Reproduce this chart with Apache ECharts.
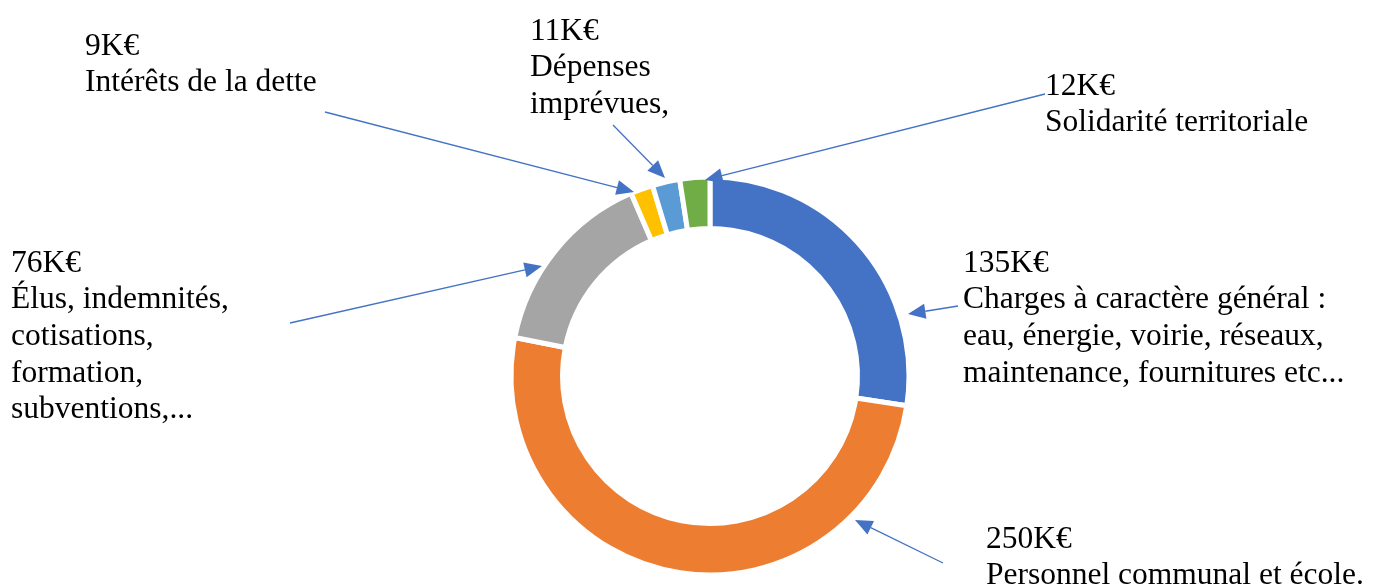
<!DOCTYPE html>
<html>
<head>
<meta charset="utf-8">
<script src="https://cdn.jsdelivr.net/npm/echarts@6/dist/echarts.min.js"></script>
<style>
html,body{margin:0;padding:0;background:#fff;}
#chart{width:1374px;height:584px;}
</style>
</head>
<body>
<div id="chart"></div>
<script>
// ---- data ----
const categories = [
  'Charges à caractère général :\neau, énergie, voirie, réseaux,\nmaintenance, fournitures etc...',
  'Personnel communal et école.',
  'Élus, indemnités,\ncotisations,\nformation,\nsubventions,...',
  'Intérêts de la dette',
  'Dépenses\nimprévues,',
  'Solidarité territoriale'
];
const values = [135, 250, 76, 9, 11, 12];
const unit = 'K€';
const colors = ['#4472C4', '#ED7D31', '#A5A5A5', '#FFC000', '#5B9BD5', '#70AD47'];

// ---- layout (label anchors: left/top) ----
const labelPos = [
  [963, 245],
  [986, 521],
  [11, 245],
  [85, 28],
  [530, 13],
  [1045, 68]
];
// arrows: tail x, tail y, tip x, tip y
const arrows = [
  [958, 306, 908, 314],
  [943, 563, 855, 520],
  [290, 323, 542, 266],
  [325, 112, 634, 192],
  [613, 125, 665, 178],
  [1045, 94, 705, 180]
];

const arrowColor = '#4472C4';
const headLen = 17.5, headHalf = 7.5;
const graphics = [];
arrows.forEach(a => {
  const [x1, y1, x2, y2] = a;
  const dx = x2 - x1, dy = y2 - y1;
  const L = Math.sqrt(dx * dx + dy * dy);
  const ux = dx / L, uy = dy / L;
  const bx = x2 - ux * headLen, by = y2 - uy * headLen;
  graphics.push({
    type: 'line', silent: true, z: 100,
    shape: { x1: x1, y1: y1, x2: bx, y2: by },
    style: { stroke: arrowColor, lineWidth: 1.3 }
  });
  graphics.push({
    type: 'polygon', silent: true, z: 100,
    shape: { points: [[x2, y2], [bx - uy * headHalf, by + ux * headHalf], [bx + uy * headHalf, by - ux * headHalf]] },
    style: { fill: arrowColor }
  });
});

const chart = echarts.init(document.getElementById('chart'), null, { renderer: 'canvas' });
chart.setOption({
  animation: false,
  backgroundColor: '#fff',
  graphic: { elements: graphics },
  series: [{
    type: 'pie',
    z: 2,
    center: [710, 376],
    radius: [147.5, 199],
    startAngle: 90,
    clockwise: true,
    avoidLabelOverlap: false,
    silent: true,
    itemStyle: { borderColor: '#fff', borderWidth: 5 },
    label: {
      show: true,
      formatter: p => p.value + unit + '\n' + p.name,
      fontFamily: 'Liberation Serif',
      fontSize: 31.5,
      lineHeight: 36.7,
      color: '#000'
    },
    labelLine: { show: false },
    labelLayout: params => {
      const p = labelPos[params.dataIndex];
      return { x: p[0], y: p[1], align: 'left', verticalAlign: 'top', hideOverlap: false, moveOverlap: null };
    },
    data: categories.map((c, i) => ({ name: c, value: values[i], itemStyle: { color: colors[i] } }))
  }]
});
</script>
</body>
</html>
